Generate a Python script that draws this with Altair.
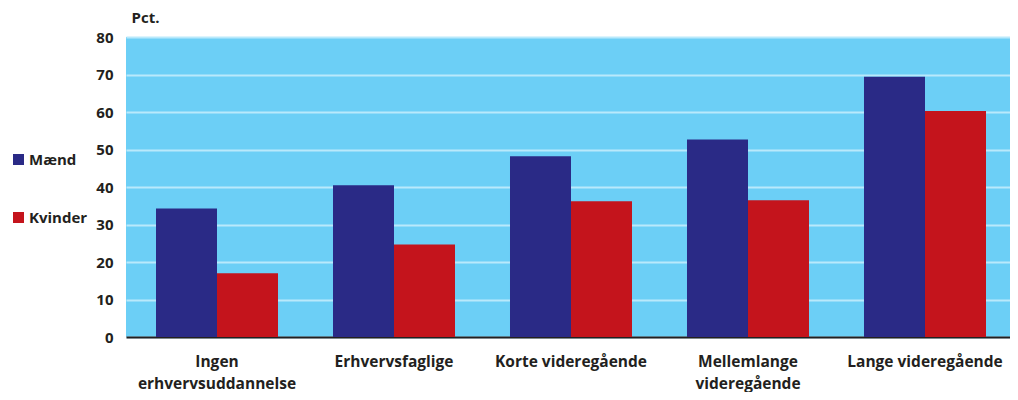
import altair as alt
import pandas as pd

categories = ["Ingen|erhvervsuddannelse", "Erhvervsfaglige", "Korte videregående",
              "Mellemlange|videregående", "Lange videregående"]
series = ["Mænd", "Kvinder"]
maend = [34.3, 40.5, 48.2, 52.7, 69.4]
kvinder = [17.0, 24.7, 36.2, 36.5, 60.3]
colors = ["#2a2a86", "#c4141c"]
y_ticks = [0, 10, 20, 30, 40, 50, 60, 70, 80]

rows = []
for c, m, k in zip(categories, maend, kvinder):
    rows.append({"Uddannelse": c, "Køn": series[0], "Pct": m})
    rows.append({"Uddannelse": c, "Køn": series[1], "Pct": k})
df = pd.DataFrame(rows)

FONT = "Open Sans"

chart = alt.Chart(df).mark_bar().encode(
    x=alt.X("Uddannelse:N", sort=categories,
            scale=alt.Scale(range=[0, 890], paddingInner=0.3107, paddingOuter=0.1695),
            axis=alt.Axis(title=None, labelAngle=0, labelExpr="split(datum.label, '|')",
                          labelFont=FONT, labelFontWeight="bold", labelFontSize=15.5,
                          labelColor="#231f20", labelPadding=24, labelLineHeight=22,
                          labelBaseline="middle",
                          ticks=False, domain=True, domainColor="#231f20", domainWidth=2,
                          grid=False)),
    xOffset=alt.XOffset("Køn:N", sort=series, scale=alt.Scale(paddingInner=0, paddingOuter=0)),
    y=alt.Y("Pct:Q", scale=alt.Scale(domain=[0, 80], nice=False),
            axis=alt.Axis(title="Pct.", values=y_ticks, titleAngle=0, titleAlign="left",
                          titleBaseline="alphabetic", titleX=5, titleY=-15,
                          titleFont=FONT, titleFontWeight="bold", titleFontSize=15,
                          titleColor="#231f20",
                          labelFont=FONT, labelFontWeight="bold", labelFontSize=15,
                          labelColor="#231f20", labelPadding=13,
                          ticks=False, domain=False,
                          grid=True, gridColor="#b9e9fb", gridWidth=2)),
    color=alt.Color("Køn:N", sort=series,
                    scale=alt.Scale(domain=series, range=colors),
                    legend=alt.Legend(title=None, orient="none", legendX=-115, legendY=115,
                                      direction="vertical", symbolType="square",
                                      symbolSize=121, symbolStrokeWidth=0,
                                      labelFont=FONT, labelFontWeight="bold",
                                      labelFontSize=15, labelColor="#231f20",
                                      labelOffset=3, rowPadding=42)),
).properties(
    width=884, height=300,
    autosize=alt.AutoSizeParams(type="none"),
    padding={"left": 118, "top": 29, "right": 0, "bottom": 55},
).configure_view(
    fill="#6ccff6", stroke=None
)

chart.save("out.html", embed_options={"renderer": "svg", "actions": False})
